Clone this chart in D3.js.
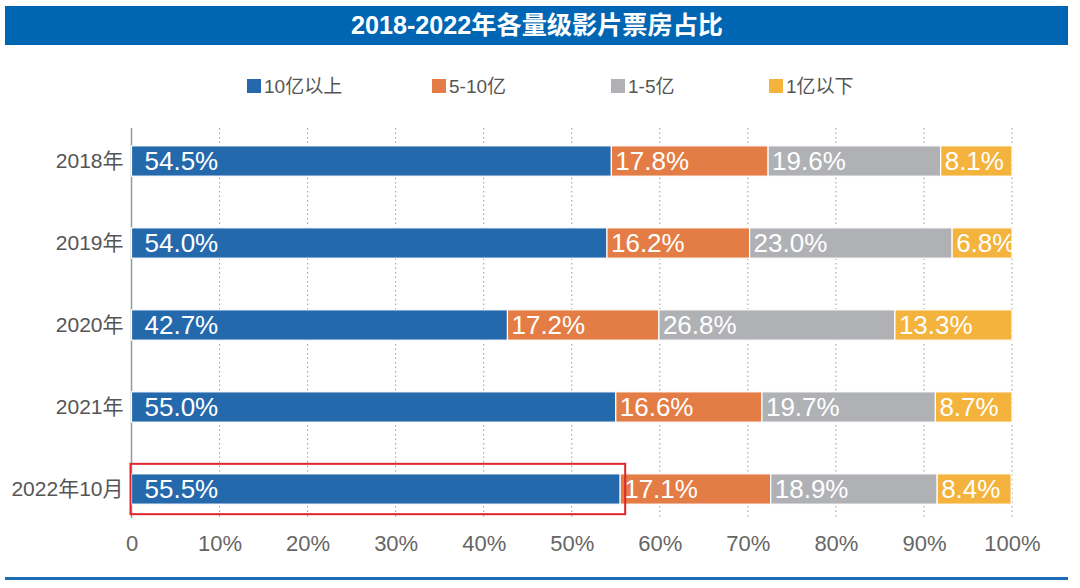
<!DOCTYPE html>
<html><head><meta charset="utf-8">
<script src="https://cdn.jsdelivr.net/npm/d3@7"></script>
<style>
html,body{margin:0;padding:0;background:#fff;}
svg{display:block;font-family:"Liberation Sans",Arial,"Noto Sans CJK SC",sans-serif;}
</style></head>
<body><svg id="c" width="1080" height="588"></svg>
<script>
const title = "2018-2022年各量级影片票房占比";
const categories = ["2018年","2019年","2020年","2021年","2022年10月"];
const seriesNames = ["10亿以上","5-10亿","1-5亿","1亿以下"];
const s1 = [54.5,54.0,42.7,55.0,55.5];
const s2 = [17.8,16.2,17.2,16.6,17.1];
const s3 = [19.6,23.0,26.8,19.7,18.9];
const s4 = [8.1,6.8,13.3,8.7,8.4];
const xTicks = [0,10,20,30,40,50,60,70,80,90,100];
const colors = ["#2569ad","#e47c45","#b0b1b5","#f4b33c"];
const highlight = "2022年10月";

const svg = d3.select("#c");
const fontCJK = '"Liberation Sans","Noto Sans CJK SC",sans-serif';

// title bar
svg.append("rect").attr("x",5).attr("y",6).attr("width",1063).attr("height",39).attr("fill","#0066b3");
svg.append("text").attr("x",537).attr("y",34).attr("text-anchor","middle")
  .attr("fill","#fff").attr("font-size",25).attr("font-weight","bold")
  .attr("textLength",372).attr("lengthAdjust","spacingAndGlyphs")
  .style("font-family",fontCJK).text(title);

// bottom line
svg.append("rect").attr("x",5).attr("y",577).attr("width",1063).attr("height",3).attr("fill","#1c6db5");

const x = d3.scaleLinear().domain([0,100]).range([131.5,1012]);
const y = d3.scaleBand().domain(categories).range([120,530]).paddingInner(0.63).paddingOuter(0.315);

// gridlines
svg.append("g").selectAll("line").data(xTicks.slice(1)).join("line")
  .attr("x1",d=>x(d)).attr("x2",d=>x(d)).attr("y1",128).attr("y2",518)
  .attr("stroke","#999").attr("stroke-width",1).attr("stroke-dasharray","1.5,3");

// axis line
svg.append("line").attr("x1",x(0)).attr("x2",x(0)).attr("y1",128).attr("y2",518)
  .attr("stroke","#999").attr("stroke-width",1.5);

// x axis labels
const xAxis = d3.axisBottom(x).tickValues(xTicks).tickSize(0).tickFormat(d=>d===0?"0":d+"%");
const gx = svg.append("g").attr("transform","translate(0,532)").call(xAxis);
gx.select(".domain").remove();
gx.selectAll("text").attr("fill","#666").attr("font-size",22).style("font-family",fontCJK);

// y axis labels
const yAxis = d3.axisLeft(y).tickSize(0).tickPadding(8);
const gy = svg.append("g").attr("transform",`translate(${x(0)},0)`).call(yAxis);
gy.select(".domain").remove();
gy.selectAll("text").attr("fill","#555").attr("font-size",21).style("font-family",fontCJK);

// stacked data
const rows = categories.map((c,i)=>({cat:c,"10亿以上":s1[i],"5-10亿":s2[i],"1-5亿":s3[i],"1亿以下":s4[i]}));
const stack = d3.stack().keys(seriesNames)(rows);

const gb = svg.append("g");
stack.forEach((layer,li)=>{
  const g = gb.append("g");
  g.selectAll("rect").data(layer).join("rect")
    .attr("x",d=>x(d[0])).attr("y",d=>y(d.data.cat))
    .attr("width",d=>x(d[1])-x(d[0])).attr("height",y.bandwidth())
    .attr("fill",colors[li]).attr("stroke","#fff").attr("stroke-width",1.2);
  g.selectAll("text").data(layer).join("text")
    .attr("x",d=>x(d[0])+(li===0?13:4)).attr("y",d=>y(d.data.cat)+y.bandwidth()/2+9)
    .attr("fill","#fff").attr("font-size",26)
    .text(d=>(d[1]-d[0]).toFixed(1)+"%");
});

// highlight box
svg.append("rect").attr("x",x(0)-1).attr("y",y(highlight)-10)
  .attr("width",x(s1[categories.indexOf(highlight)])-x(0)+6).attr("height",y.bandwidth()+20)
  .attr("fill","none").attr("stroke","#e0262d").attr("stroke-width",2);

// legend
const legX = [247,432,611,769];
const lg = svg.append("g");
seriesNames.forEach((n,i)=>{
  lg.append("rect").attr("x",legX[i]).attr("y",79).attr("width",14).attr("height",14).attr("fill",colors[i]);
  lg.append("text").attr("x",legX[i]+17).attr("y",93).attr("fill","#555").attr("font-size",19)
    .style("font-family",fontCJK).text(n);
});
</script></body></html>
